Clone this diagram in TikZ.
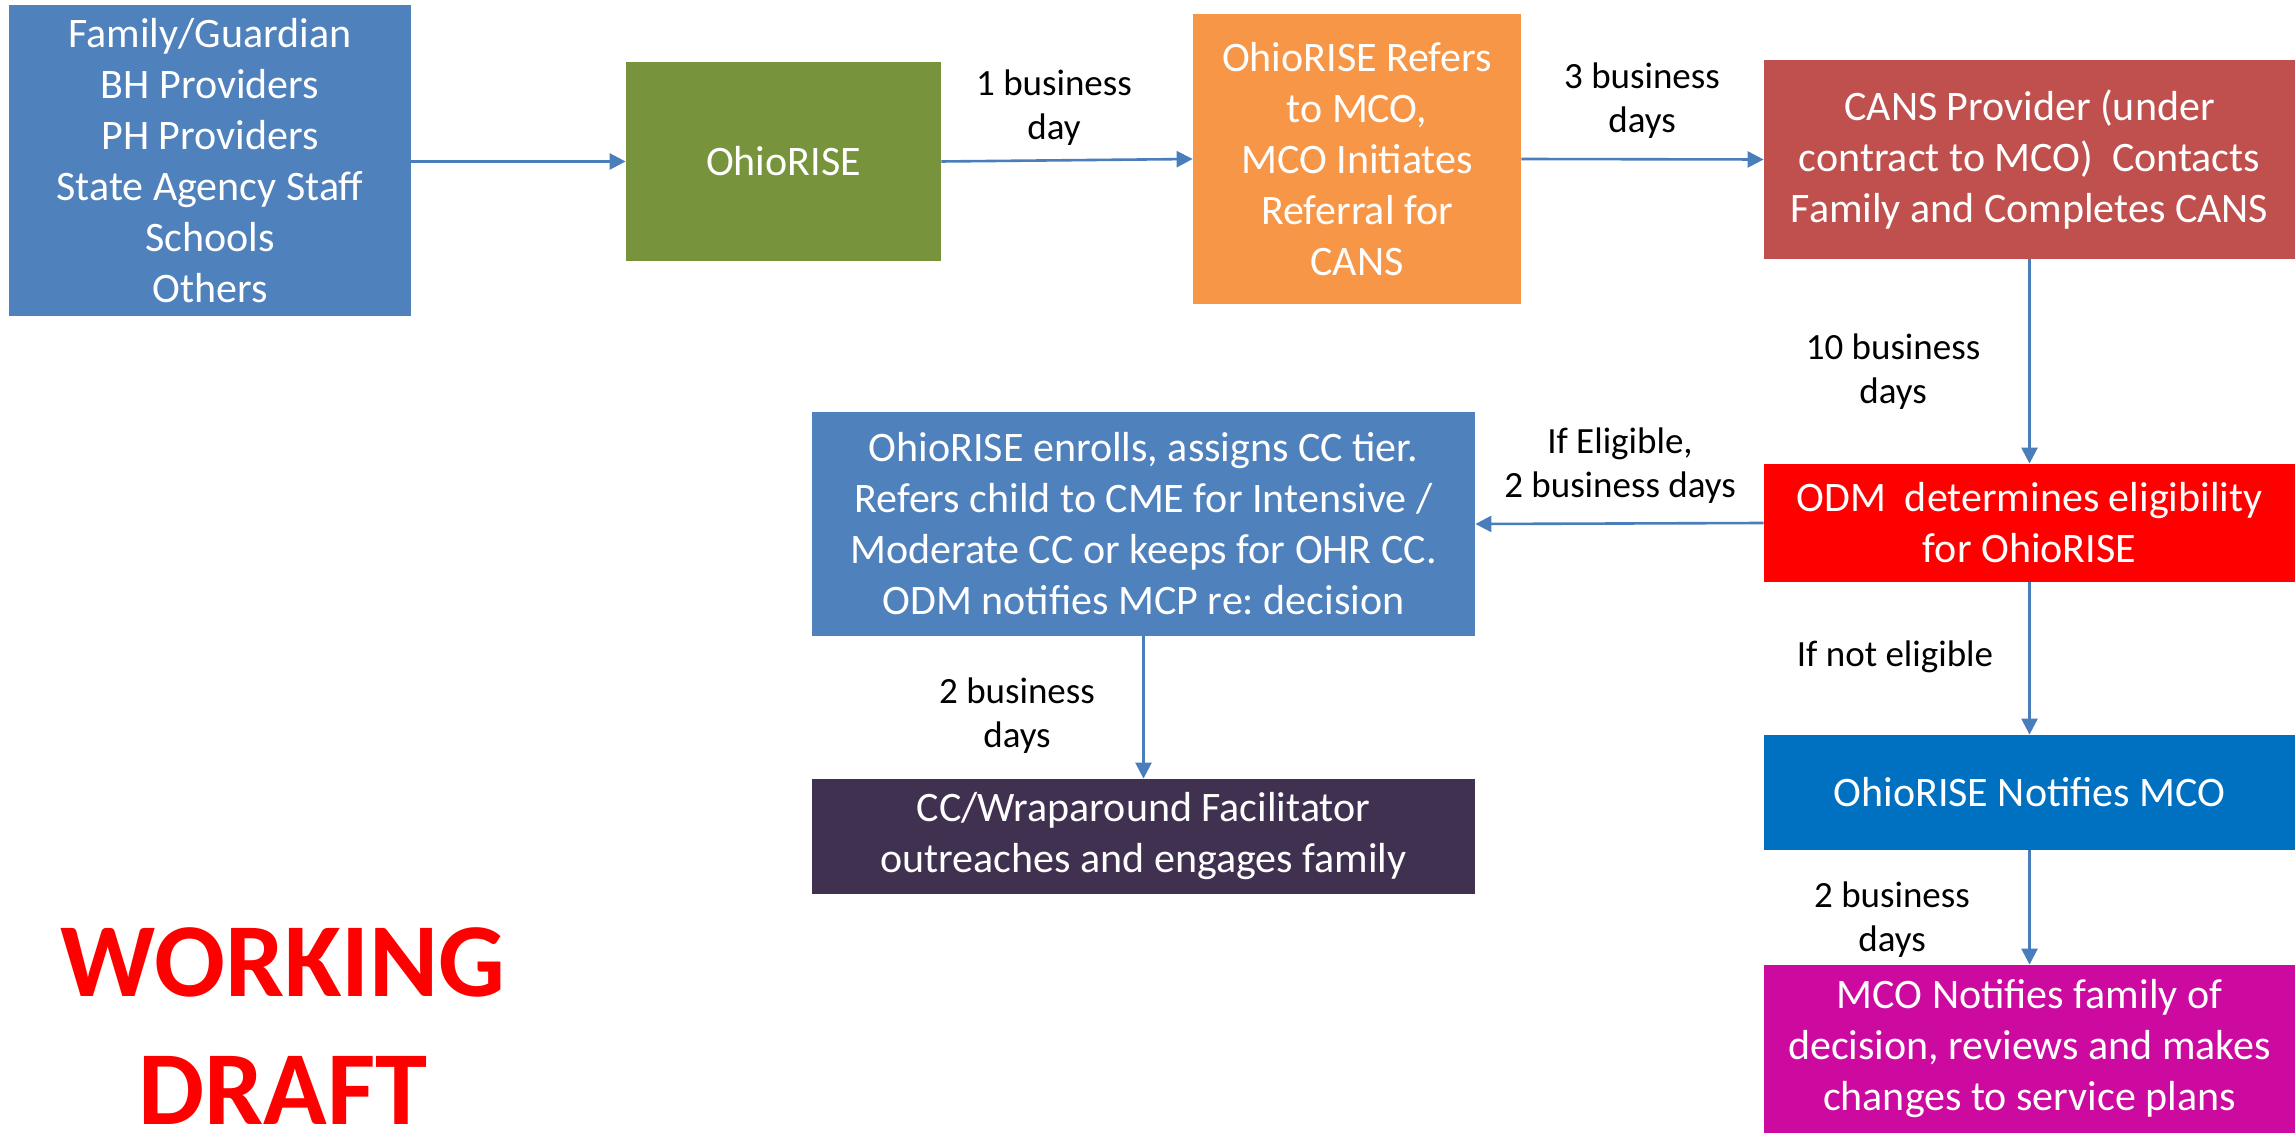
\documentclass[tikz,border=0pt]{standalone}
\usepackage{fontspec}
\setmainfont{Carlito}
\usetikzlibrary{arrows.meta}
\frenchspacing

\definecolor{srcblue}{HTML}{4F81BD}
\definecolor{olivebox}{HTML}{77933C}
\definecolor{orangebox}{HTML}{F79646}
\definecolor{brickbox}{HTML}{C0504D}
\definecolor{redbox}{HTML}{FF0000}
\definecolor{oceanbox}{HTML}{0070C0}
\definecolor{magentabox}{HTML}{CC0AA0}
\definecolor{plumbox}{HTML}{403151}
\definecolor{linkblue}{HTML}{4A7EBB}

\tikzset{
  box/.style={rectangle, inner sep=0pt, align=center, text=white,
    font=\fontsize{21pt}{25.5pt}\selectfont},
  tag/.style={inner sep=0pt, align=center, text=black,
    font=\fontsize{18.5pt}{22pt}\selectfont},
  flow/.style={draw=linkblue, line width=1.3pt,
    -{Triangle[length=8pt,width=8pt]}},
}

\begin{document}
\begin{tikzpicture}[x=0.5pt,y=-0.5pt]
\useasboundingbox (0,0) rectangle (2295,1133);

% process boxes
\node[box, fill=srcblue, minimum width=201pt, minimum height=155.5pt] (src) at (210,160.5)
  {Family/Guardian\\BH Providers\\PH Providers\\State Agency Staff\\Schools\\Others};
\node[box, fill=olivebox, minimum width=157.5pt, minimum height=99.5pt] (ohio) at (783.5,161.5)
  {OhioRISE};
\node[box, fill=orangebox, minimum width=164pt, minimum height=145pt] (refer) at (1357,159)
  {OhioRISE Refers\\to MCO,\\MCO Initiates\\Referral for\\CANS};
\node[box, fill=brickbox, minimum width=265.5pt, minimum height=99.5pt] (cans) at (2029.5,159.5)
  {CANS Provider (under\\contract to MCO)\ \ Contacts\\Family and Completes CANS};
\node[box, fill=redbox, minimum width=265.5pt, minimum height=59pt] (odm) at (2029.5,523)
  {ODM\ \ determines eligibility\\for OhioRISE};
\node[box, fill=oceanbox, minimum width=265.5pt, minimum height=57.5pt] (notify) at (2029.5,792.5)
  {OhioRISE Notifies MCO};
\node[box, fill=magentabox, minimum width=265.5pt, minimum height=84pt] (mco) at (2029.5,1049)
  {MCO Notifies family of\\decision, reviews and makes\\changes to service plans};
\node[box, fill=srcblue, minimum width=331.5pt, minimum height=112pt] (enroll) at (1143.5,524)
  {OhioRISE enrolls, assigns CC tier.\\Refers child to CME for Intensive /\\Moderate CC or keeps for OHR CC.\\ODM notifies MCP re: decision};
\node[box, fill=plumbox, minimum width=331.5pt, minimum height=57.5pt] (wrap) at (1143.5,836.5)
  {CC/Wraparound Facilitator\\outreaches and engages family};

% connectors
\draw[flow] (src.east |- ohio.west) -- (ohio.west);
\draw[flow] (ohio.east) -- (refer.west);
\draw[flow] (refer.east) -- (cans.west);
\draw[flow] (cans.south) -- (odm.north);
\draw[flow] (odm.west) -- (enroll.east);
\draw[flow] (enroll.south) -- (wrap.north);
\draw[flow] (odm.south) -- (notify.north);
\draw[flow] (notify.south) -- (mco.north);

% timing labels
\node[tag] (t1) at (1054,108) {1 business\\day};
\node[tag] (t2) at (1642,101) {3 business\\days};
\node[tag] (t3) at (1893,372) {10 business\\days};
\node[tag] (t4) at (1620,466) {If Eligible,\\2 business days};
\node[tag] (t5) at (1017,716) {2 business\\days};
\node[tag] (t6) at (1895,657) {If not eligible};
\node[tag] (t7) at (1892,920) {2 business\\days};

% stamp
\node[inner sep=0pt, align=center, text=redbox,
  font=\fontsize{52.5pt}{64pt}\selectfont\bfseries] (draft) at (283,1026)
  {WORKING\\DRAFT};
\end{tikzpicture}
\end{document}
